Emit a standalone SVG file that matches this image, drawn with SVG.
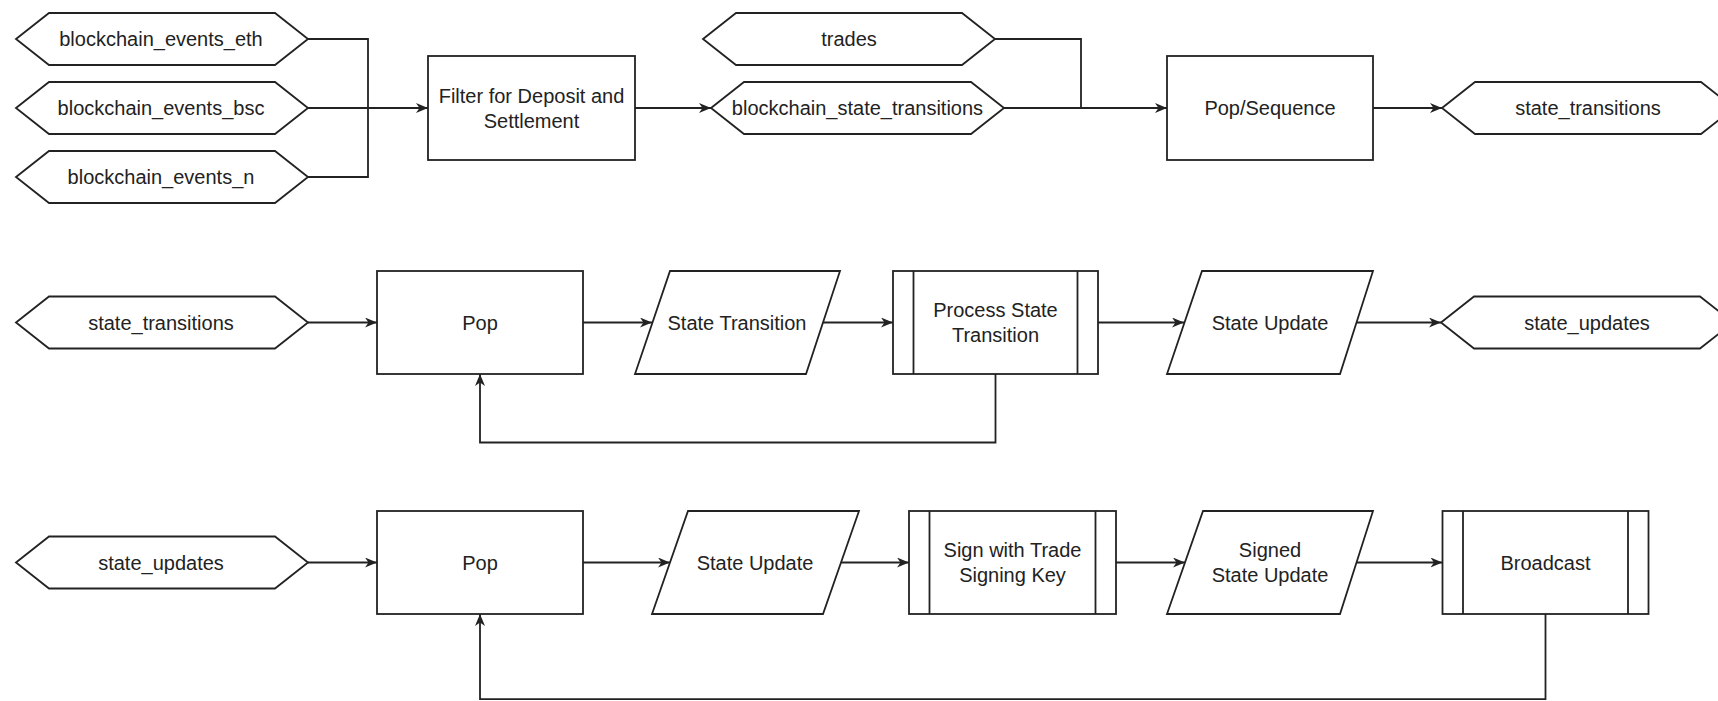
<svg xmlns="http://www.w3.org/2000/svg" width="1718" height="701" viewBox="0 0 1718 701">
  <style>
    .shape { fill: #ffffff; stroke: #222222; stroke-width: 1.8; }
    .line { fill: none; stroke: #222222; stroke-width: 1.8; }
    .arrow { fill: none; stroke: #222222; stroke-width: 1.8; marker-end: url(#arr); }
    text { font-family: "Liberation Sans", Arial, Helvetica, sans-serif; font-size: 20px; fill: #222222; text-anchor: middle; dominant-baseline: central; }
  </style>
  <defs>
    <marker id="arr" viewBox="0 0 12 10" refX="12" refY="5" markerWidth="12" markerHeight="10" orient="auto" markerUnits="userSpaceOnUse">
      <path d="M0,0 L12,5 L0,10 L3.5,5 z" fill="#222222"/>
    </marker>
  </defs>
  <rect width="1718" height="701" fill="#ffffff"/>

  <!-- Connectors -->
  <g id="connectors">
    <!-- row 1: event sources merge into the filter -->
    <path class="line" d="M308,39 H368 V177 H308"/>
    <path class="arrow" d="M308,108 H428"/>
    <path class="arrow" d="M635,108 H711"/>
    <path class="line" d="M995,39 H1081 V108"/>
    <path class="arrow" d="M1004,108 H1167"/>
    <path class="arrow" d="M1373,108 H1442"/>
    <!-- row 2: state transition loop -->
    <path class="arrow" d="M308,322.5 H377"/>
    <path class="arrow" d="M583,322.5 H652"/>
    <path class="arrow" d="M823,322.5 H893"/>
    <path class="arrow" d="M1098,322.5 H1184"/>
    <path class="arrow" d="M1356.5,322.5 H1441"/>
    <path class="arrow" d="M995.5,374 V442.5 H480 V374"/>
    <!-- row 3: signing and broadcast loop -->
    <path class="arrow" d="M308,562.5 H377"/>
    <path class="arrow" d="M583,562.5 H670"/>
    <path class="arrow" d="M841,562.5 H909"/>
    <path class="arrow" d="M1116,562.5 H1185"/>
    <path class="arrow" d="M1356.5,562.5 H1442.5"/>
    <path class="arrow" d="M1545.5,614 V699.2 H480 V614"/>
  </g>

  <!-- Row 1 -->
  <g id="blockchain_events_eth">
    <polygon class="shape" points="16,39 49,13 275,13 308,39 275,65 49,65"/>
    <text x="161" y="39">blockchain_events_eth</text>
  </g>
  <g id="blockchain_events_bsc">
    <polygon class="shape" points="16,108 49,82 275,82 308,108 275,134 49,134"/>
    <text x="161" y="108">blockchain_events_bsc</text>
  </g>
  <g id="blockchain_events_n">
    <polygon class="shape" points="16,177 49,151 275,151 308,177 275,203 49,203"/>
    <text x="161" y="177">blockchain_events_n</text>
  </g>
  <g id="filter">
    <rect class="shape" x="428" y="56" width="207" height="104"/>
    <text x="531.5" y="95.5">Filter for Deposit and</text>
    <text x="531.5" y="120.5">Settlement</text>
  </g>
  <g id="trades">
    <polygon class="shape" points="703,39 736,13 962,13 995,39 962,65 736,65"/>
    <text x="849" y="39">trades</text>
  </g>
  <g id="blockchain_state_transitions">
    <polygon class="shape" points="711,108 744,82 971,82 1004,108 971,134 744,134"/>
    <text x="857.5" y="108">blockchain_state_transitions</text>
  </g>
  <g id="pop_sequence">
    <rect class="shape" x="1167" y="56" width="206" height="104"/>
    <text x="1270" y="108">Pop/Sequence</text>
  </g>
  <g id="state_transitions_out">
    <polygon class="shape" points="1442,108 1475,82 1701,82 1734,108 1701,134 1475,134"/>
    <text x="1588" y="108">state_transitions</text>
  </g>

  <!-- Row 2 -->
  <g id="state_transitions_in">
    <polygon class="shape" points="16,322.5 49,296.5 275,296.5 308,322.5 275,348.5 49,348.5"/>
    <text x="161" y="322.5">state_transitions</text>
  </g>
  <g id="pop_transitions">
    <rect class="shape" x="377" y="271" width="206" height="103"/>
    <text x="480" y="322.5">Pop</text>
  </g>
  <g id="state_transition">
    <polygon class="shape" points="670,271 840,271 806,374 635,374"/>
    <text x="737" y="322.5">State Transition</text>
  </g>
  <g id="process_state_transition">
    <rect class="shape" x="893" y="271" width="205" height="103"/>
    <path class="line" d="M913.5,271 V374 M1077.5,271 V374"/>
    <text x="995.5" y="310">Process State</text>
    <text x="995.5" y="335">Transition</text>
  </g>
  <g id="state_update_out">
    <polygon class="shape" points="1202,271 1373,271 1340,374 1167,374"/>
    <text x="1270" y="322.5">State Update</text>
  </g>
  <g id="state_updates_out">
    <polygon class="shape" points="1441,322.5 1474,296.5 1700,296.5 1733,322.5 1700,348.5 1474,348.5"/>
    <text x="1587" y="322.5">state_updates</text>
  </g>

  <!-- Row 3 -->
  <g id="state_updates_in">
    <polygon class="shape" points="16,562.5 49,536.5 275,536.5 308,562.5 275,588.5 49,588.5"/>
    <text x="161" y="562.5">state_updates</text>
  </g>
  <g id="pop_updates">
    <rect class="shape" x="377" y="511" width="206" height="103"/>
    <text x="480" y="562.5">Pop</text>
  </g>
  <g id="state_update_in">
    <polygon class="shape" points="688,511 859,511 823,614 652,614"/>
    <text x="755" y="562.5">State Update</text>
  </g>
  <g id="sign">
    <rect class="shape" x="909" y="511" width="207" height="103"/>
    <path class="line" d="M929.5,511 V614 M1095.5,511 V614"/>
    <text x="1012.5" y="550">Sign with Trade</text>
    <text x="1012.5" y="575">Signing Key</text>
  </g>
  <g id="signed_state_update">
    <polygon class="shape" points="1203,511 1373,511 1340,614 1167,614"/>
    <text x="1270" y="550">Signed</text>
    <text x="1270" y="575">State Update</text>
  </g>
  <g id="broadcast">
    <rect class="shape" x="1442.5" y="511" width="206" height="103"/>
    <path class="line" d="M1463,511 V614 M1628,511 V614"/>
    <text x="1545.5" y="562.5">Broadcast</text>
  </g>
</svg>
